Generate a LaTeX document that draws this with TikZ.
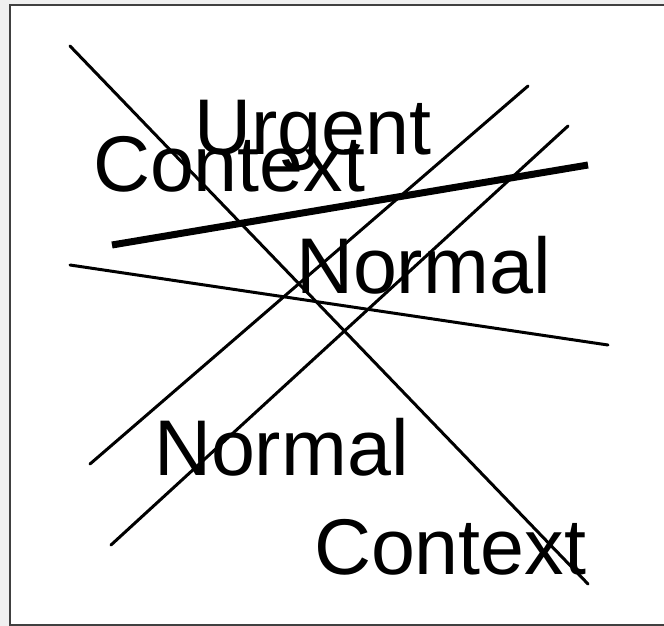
\documentclass[tikz,border=0pt]{standalone}
\usepackage{fontspec}
\setmainfont{Liberation Sans}
\definecolor{bggrey}{HTML}{F0F0F0}
\definecolor{framegrey}{HTML}{404040}
\begin{document}
\begin{tikzpicture}[x=1pt,y=-1pt,
  lbl/.style={anchor=base west,inner sep=0pt,outer sep=0pt,font=\fontsize{79}{82}\selectfont},
  thinline/.style={line width=3pt,line cap=round},
  thickline/.style={line width=7pt,line cap=butt}]
\useasboundingbox (0,0) rectangle (664,626);
\fill[bggrey] (0,0) rectangle (664,626);
\fill[white] (10,5) rectangle (664,625);
\draw[framegrey,line width=2pt] (664,5) -- (10,5) -- (10,625) -- (664,625);
% endpoints
\coordinate (a1) at (70,46);
\coordinate (a2) at (588,584);
\coordinate (b1) at (90,464);
\coordinate (b2) at (528,86);
\coordinate (c1) at (111,545);
\coordinate (c2) at (568,126);
\coordinate (d1) at (70,265);
\coordinate (d2) at (608,345);
\coordinate (e1) at (112,245);
\coordinate (e2) at (588,165);
% labels
\node[lbl] (urgent) at (194,154) {Urgent};
\node[lbl] (ctx1) at (93,191) {Context};
\node[lbl] (norm1) at (296,293) {Normal};
\node[lbl] (norm2) at (154,475) {Normal};
\node[lbl] (ctx2) at (314,574) {Context};
% lines
\draw[thinline] (a1) -- (a2);
\draw[thinline] (b1) -- (b2);
\draw[thinline] (c1) -- (c2);
\draw[thinline] (d1) -- (d2);
\draw[thickline] (e1) -- (e2);
\end{tikzpicture}
\end{document}
